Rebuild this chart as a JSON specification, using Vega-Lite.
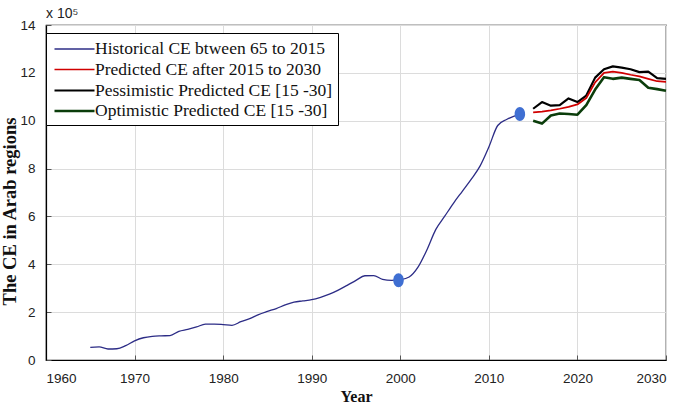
{
  "$schema": "https://vega.github.io/schema/vega-lite/v6.json",
  "width": 620,
  "height": 335,
  "autosize": {"type": "none"},
  "padding": {"left": 46, "top": 25, "right": 18, "bottom": 44},
  "background": "white",
  "title": {"text": "x 10⁵", "anchor": "start", "frame": "group", "dx": 0, "offset": -3, "font": "Liberation Sans", "fontSize": 14, "fontWeight": "normal", "color": "#222222"},
  "config": {
    "view": {"stroke": "black", "strokeWidth": 1.2},
    "axis": {"labelFont": "Liberation Sans", "labelFontSize": 13.5, "labelColor": "#222222", "gridColor": "#dcdcdc", "gridWidth": 1, "domainColor": "black", "domainWidth": 1.2, "tickColor": "#555555", "tickSize": -5, "titleFont": "Liberation Serif", "titleFontWeight": "bold", "titleColor": "#111111"},
    "legend": {"orient": "none", "legendX": 0, "legendY": 8, "fillColor": "white", "strokeColor": "black", "padding": 5, "labelFont": "Liberation Serif", "labelFontSize": 17.5, "labelColor": "#111111", "symbolType": "M-2,0H2", "symbolSize": 400, "symbolOffset": 12, "labelOffset": 9, "rowPadding": 0.5, "title": null, "labelLimit": 400}
  },
  "datasets": {
    "series": [
      {"year": 1965, "value": 0.53, "series": "Historical CE btween 65 to 2015"},
      {"year": 1966, "value": 0.55, "series": "Historical CE btween 65 to 2015"},
      {"year": 1967, "value": 0.46, "series": "Historical CE btween 65 to 2015"},
      {"year": 1968, "value": 0.47, "series": "Historical CE btween 65 to 2015"},
      {"year": 1969, "value": 0.6, "series": "Historical CE btween 65 to 2015"},
      {"year": 1970, "value": 0.8, "series": "Historical CE btween 65 to 2015"},
      {"year": 1971, "value": 0.93, "series": "Historical CE btween 65 to 2015"},
      {"year": 1972, "value": 0.99, "series": "Historical CE btween 65 to 2015"},
      {"year": 1973, "value": 1.01, "series": "Historical CE btween 65 to 2015"},
      {"year": 1974, "value": 1.02, "series": "Historical CE btween 65 to 2015"},
      {"year": 1975, "value": 1.2, "series": "Historical CE btween 65 to 2015"},
      {"year": 1976, "value": 1.28, "series": "Historical CE btween 65 to 2015"},
      {"year": 1977, "value": 1.38, "series": "Historical CE btween 65 to 2015"},
      {"year": 1978, "value": 1.5, "series": "Historical CE btween 65 to 2015"},
      {"year": 1979, "value": 1.5, "series": "Historical CE btween 65 to 2015"},
      {"year": 1980, "value": 1.48, "series": "Historical CE btween 65 to 2015"},
      {"year": 1981, "value": 1.45, "series": "Historical CE btween 65 to 2015"},
      {"year": 1982, "value": 1.6, "series": "Historical CE btween 65 to 2015"},
      {"year": 1983, "value": 1.73, "series": "Historical CE btween 65 to 2015"},
      {"year": 1984, "value": 1.9, "series": "Historical CE btween 65 to 2015"},
      {"year": 1985, "value": 2.03, "series": "Historical CE btween 65 to 2015"},
      {"year": 1986, "value": 2.15, "series": "Historical CE btween 65 to 2015"},
      {"year": 1987, "value": 2.3, "series": "Historical CE btween 65 to 2015"},
      {"year": 1988, "value": 2.42, "series": "Historical CE btween 65 to 2015"},
      {"year": 1989, "value": 2.47, "series": "Historical CE btween 65 to 2015"},
      {"year": 1990, "value": 2.52, "series": "Historical CE btween 65 to 2015"},
      {"year": 1991, "value": 2.62, "series": "Historical CE btween 65 to 2015"},
      {"year": 1992, "value": 2.75, "series": "Historical CE btween 65 to 2015"},
      {"year": 1993, "value": 2.92, "series": "Historical CE btween 65 to 2015"},
      {"year": 1994, "value": 3.12, "series": "Historical CE btween 65 to 2015"},
      {"year": 1995, "value": 3.33, "series": "Historical CE btween 65 to 2015"},
      {"year": 1996, "value": 3.52, "series": "Historical CE btween 65 to 2015"},
      {"year": 1997, "value": 3.53, "series": "Historical CE btween 65 to 2015"},
      {"year": 1998, "value": 3.37, "series": "Historical CE btween 65 to 2015"},
      {"year": 1999, "value": 3.33, "series": "Historical CE btween 65 to 2015"},
      {"year": 2000, "value": 3.36, "series": "Historical CE btween 65 to 2015"},
      {"year": 2001, "value": 3.47, "series": "Historical CE btween 65 to 2015"},
      {"year": 2002, "value": 3.88, "series": "Historical CE btween 65 to 2015"},
      {"year": 2003, "value": 4.6, "series": "Historical CE btween 65 to 2015"},
      {"year": 2004, "value": 5.45, "series": "Historical CE btween 65 to 2015"},
      {"year": 2005, "value": 6.0, "series": "Historical CE btween 65 to 2015"},
      {"year": 2006, "value": 6.55, "series": "Historical CE btween 65 to 2015"},
      {"year": 2007, "value": 7.05, "series": "Historical CE btween 65 to 2015"},
      {"year": 2008, "value": 7.55, "series": "Historical CE btween 65 to 2015"},
      {"year": 2009, "value": 8.1, "series": "Historical CE btween 65 to 2015"},
      {"year": 2010, "value": 8.9, "series": "Historical CE btween 65 to 2015"},
      {"year": 2011, "value": 9.8, "series": "Historical CE btween 65 to 2015"},
      {"year": 2012, "value": 10.05, "series": "Historical CE btween 65 to 2015"},
      {"year": 2013.5, "value": 10.28, "series": "Historical CE btween 65 to 2015"},
      {"year": 2015, "value": 10.35, "series": "Predicted CE after 2015 to 2030"},
      {"year": 2016, "value": 10.38, "series": "Predicted CE after 2015 to 2030"},
      {"year": 2017, "value": 10.43, "series": "Predicted CE after 2015 to 2030"},
      {"year": 2018, "value": 10.5, "series": "Predicted CE after 2015 to 2030"},
      {"year": 2019, "value": 10.58, "series": "Predicted CE after 2015 to 2030"},
      {"year": 2020, "value": 10.68, "series": "Predicted CE after 2015 to 2030"},
      {"year": 2021, "value": 10.95, "series": "Predicted CE after 2015 to 2030"},
      {"year": 2022, "value": 11.6, "series": "Predicted CE after 2015 to 2030"},
      {"year": 2023, "value": 12.0, "series": "Predicted CE after 2015 to 2030"},
      {"year": 2024, "value": 12.05, "series": "Predicted CE after 2015 to 2030"},
      {"year": 2025, "value": 12.0, "series": "Predicted CE after 2015 to 2030"},
      {"year": 2026, "value": 11.92, "series": "Predicted CE after 2015 to 2030"},
      {"year": 2027, "value": 11.85, "series": "Predicted CE after 2015 to 2030"},
      {"year": 2028, "value": 11.75, "series": "Predicted CE after 2015 to 2030"},
      {"year": 2029, "value": 11.65, "series": "Predicted CE after 2015 to 2030"},
      {"year": 2030, "value": 11.62, "series": "Predicted CE after 2015 to 2030"},
      {"year": 2015, "value": 10.5, "series": "Pessimistic Predicted CE [15 -30]"},
      {"year": 2016, "value": 10.78, "series": "Pessimistic Predicted CE [15 -30]"},
      {"year": 2017, "value": 10.63, "series": "Pessimistic Predicted CE [15 -30]"},
      {"year": 2018, "value": 10.65, "series": "Pessimistic Predicted CE [15 -30]"},
      {"year": 2019, "value": 10.93, "series": "Pessimistic Predicted CE [15 -30]"},
      {"year": 2020, "value": 10.78, "series": "Pessimistic Predicted CE [15 -30]"},
      {"year": 2021, "value": 11.05, "series": "Pessimistic Predicted CE [15 -30]"},
      {"year": 2022, "value": 11.8, "series": "Pessimistic Predicted CE [15 -30]"},
      {"year": 2023, "value": 12.15, "series": "Pessimistic Predicted CE [15 -30]"},
      {"year": 2024, "value": 12.27, "series": "Pessimistic Predicted CE [15 -30]"},
      {"year": 2025, "value": 12.22, "series": "Pessimistic Predicted CE [15 -30]"},
      {"year": 2026, "value": 12.15, "series": "Pessimistic Predicted CE [15 -30]"},
      {"year": 2027, "value": 12.03, "series": "Pessimistic Predicted CE [15 -30]"},
      {"year": 2028, "value": 12.05, "series": "Pessimistic Predicted CE [15 -30]"},
      {"year": 2029, "value": 11.78, "series": "Pessimistic Predicted CE [15 -30]"},
      {"year": 2030, "value": 11.75, "series": "Pessimistic Predicted CE [15 -30]"},
      {"year": 2015, "value": 10.0, "series": "Optimistic Predicted CE [15 -30]"},
      {"year": 2016, "value": 9.88, "series": "Optimistic Predicted CE [15 -30]"},
      {"year": 2017, "value": 10.22, "series": "Optimistic Predicted CE [15 -30]"},
      {"year": 2018, "value": 10.3, "series": "Optimistic Predicted CE [15 -30]"},
      {"year": 2019, "value": 10.28, "series": "Optimistic Predicted CE [15 -30]"},
      {"year": 2020, "value": 10.25, "series": "Optimistic Predicted CE [15 -30]"},
      {"year": 2021, "value": 10.65, "series": "Optimistic Predicted CE [15 -30]"},
      {"year": 2022, "value": 11.3, "series": "Optimistic Predicted CE [15 -30]"},
      {"year": 2023, "value": 11.82, "series": "Optimistic Predicted CE [15 -30]"},
      {"year": 2024, "value": 11.75, "series": "Optimistic Predicted CE [15 -30]"},
      {"year": 2025, "value": 11.8, "series": "Optimistic Predicted CE [15 -30]"},
      {"year": 2026, "value": 11.75, "series": "Optimistic Predicted CE [15 -30]"},
      {"year": 2027, "value": 11.7, "series": "Optimistic Predicted CE [15 -30]"},
      {"year": 2028, "value": 11.38, "series": "Optimistic Predicted CE [15 -30]"},
      {"year": 2029, "value": 11.32, "series": "Optimistic Predicted CE [15 -30]"},
      {"year": 2030, "value": 11.25, "series": "Optimistic Predicted CE [15 -30]"}
    ],
    "dots": [
      {"year": 1999.8, "value": 3.33},
      {"year": 2013.5, "value": 10.28}
    ]
  },
  "encoding": {
    "x": {"field": "year", "type": "quantitative", "scale": {"domain": [1960, 2030], "nice": false, "zero": false}, "axis": {"values": [1960, 1970, 1980, 1990, 2000, 2010, 2020, 2030], "format": "d", "title": "Year", "titleFontSize": 16, "labelPadding": 16, "titlePadding": 4}},
    "y": {"field": "value", "type": "quantitative", "scale": {"domain": [0, 14], "nice": false}, "axis": {"values": [0, 2, 4, 6, 8, 10, 12, 14], "title": "The CE in Arab regions", "titleFontSize": 18.5, "labelPadding": 16, "titlePadding": 0, "titleY": 186}}
  },
  "layer": [
    {
      "data": {"name": "series"},
      "transform": [{"filter": "datum.series === 'Pessimistic Predicted CE [15 -30]'"}],
      "mark": {"type": "line", "strokeJoin": "round"},
      "encoding": {
        "color": {"field": "series", "type": "nominal", "scale": {"domain": ["Historical CE btween 65 to 2015", "Predicted CE after 2015 to 2030", "Pessimistic Predicted CE [15 -30]", "Optimistic Predicted CE [15 -30]"], "range": ["#2c2c86", "#d00000", "#000000", "#0b3d0b"]}},
        "strokeWidth": {"field": "series", "type": "nominal", "scale": {"domain": ["Historical CE btween 65 to 2015", "Predicted CE after 2015 to 2030", "Pessimistic Predicted CE [15 -30]", "Optimistic Predicted CE [15 -30]"], "range": [1.3, 2.6, 3, 2.6]}}
      }
    },
    {
      "data": {"name": "series"},
      "transform": [{"filter": "datum.series === 'Optimistic Predicted CE [15 -30]'"}],
      "mark": {"type": "line", "strokeJoin": "round"},
      "encoding": {
        "color": {"field": "series", "type": "nominal", "scale": {"domain": ["Historical CE btween 65 to 2015", "Predicted CE after 2015 to 2030", "Pessimistic Predicted CE [15 -30]", "Optimistic Predicted CE [15 -30]"], "range": ["#2c2c86", "#d00000", "#000000", "#0b3d0b"]}},
        "strokeWidth": {"field": "series", "type": "nominal", "scale": {"domain": ["Historical CE btween 65 to 2015", "Predicted CE after 2015 to 2030", "Pessimistic Predicted CE [15 -30]", "Optimistic Predicted CE [15 -30]"], "range": [1.3, 2.6, 3, 2.6]}}
      }
    },
    {
      "data": {"name": "series"},
      "transform": [{"filter": "datum.series === 'Predicted CE after 2015 to 2030'"}],
      "mark": {"type": "line", "strokeJoin": "round"},
      "encoding": {
        "color": {"field": "series", "type": "nominal", "scale": {"domain": ["Historical CE btween 65 to 2015", "Predicted CE after 2015 to 2030", "Pessimistic Predicted CE [15 -30]", "Optimistic Predicted CE [15 -30]"], "range": ["#2c2c86", "#d00000", "#000000", "#0b3d0b"]}},
        "strokeWidth": {"field": "series", "type": "nominal", "scale": {"domain": ["Historical CE btween 65 to 2015", "Predicted CE after 2015 to 2030", "Pessimistic Predicted CE [15 -30]", "Optimistic Predicted CE [15 -30]"], "range": [1.3, 2.6, 3, 2.6]}}
      }
    },
    {
      "data": {"name": "series"},
      "transform": [{"filter": "datum.series === 'Historical CE btween 65 to 2015'"}],
      "mark": {"type": "line", "strokeJoin": "round", "interpolate": "monotone"},
      "encoding": {
        "color": {"field": "series", "type": "nominal", "scale": {"domain": ["Historical CE btween 65 to 2015", "Predicted CE after 2015 to 2030", "Pessimistic Predicted CE [15 -30]", "Optimistic Predicted CE [15 -30]"], "range": ["#2c2c86", "#d00000", "#000000", "#0b3d0b"]}},
        "strokeWidth": {"field": "series", "type": "nominal", "scale": {"domain": ["Historical CE btween 65 to 2015", "Predicted CE after 2015 to 2030", "Pessimistic Predicted CE [15 -30]", "Optimistic Predicted CE [15 -30]"], "range": [1.3, 2.6, 3, 2.6]}}
      }
    },
    {
      "data": {"name": "dots"},
      "mark": {"type": "point", "filled": true, "opacity": 1, "color": "#3f6fd2", "size": 196, "shape": "M0,-1A0.75,1,0,1,1,0,1A0.75,1,0,1,1,0,-1Z"},
      "encoding": {}
    }
  ]
}
